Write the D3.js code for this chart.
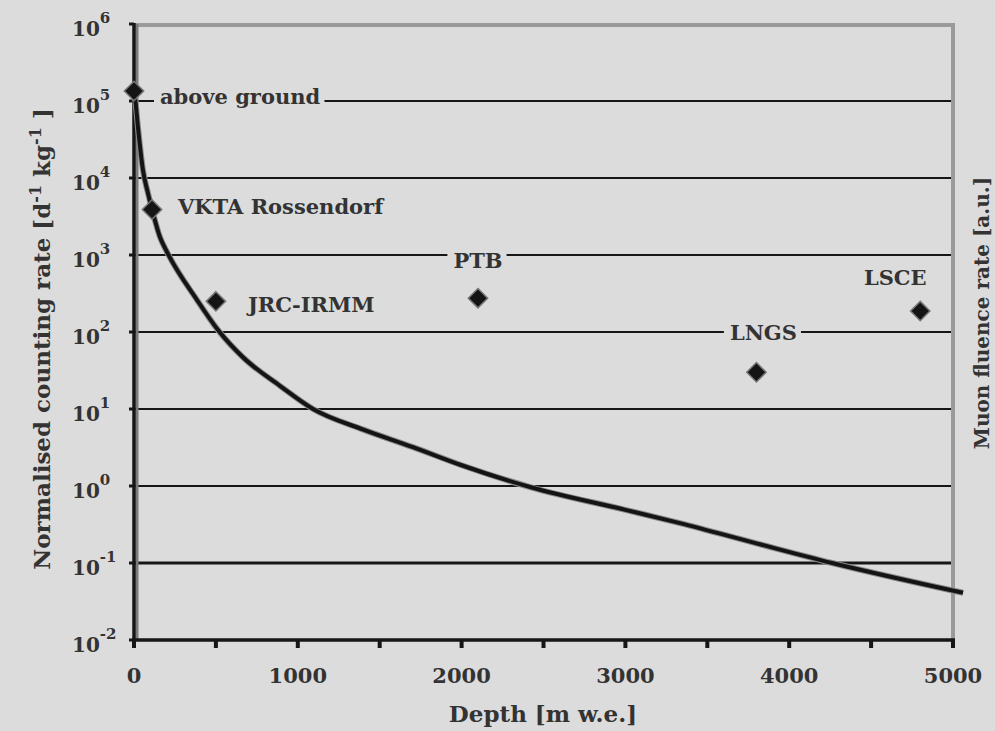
<!DOCTYPE html>
<html>
<head>
<meta charset="utf-8">
<script src="https://cdn.jsdelivr.net/npm/d3@7"></script>
<style>
  body { margin: 0; background: #dcdcdc; }
  svg { display: block; }
  text { font-family: "DejaVu Serif", "Liberation Serif", serif; font-weight: bold; fill: #333; }
</style>
</head>
<body>
<div id="chart"></div>
<script>
// Muon fluence curve (depth in m w.e., rate in a.u.)
const curveDepth = [0, 6, 24, 55, 85, 116, 159, 201, 385, 513, 665, 891, 1093, 1400, 1703, 2000, 2418, 3000, 3333, 3800, 4262, 5061];
const curveRate = [1.25e5, 1.1e5, 4.6e4, 1.25e4, 6.4e3, 3.5e3, 1.7e3, 1.1e3, 260, 106, 47, 20, 10, 5.4, 3.2, 1.86, 0.97, 0.49, 0.33, 0.18, 0.1, 0.041];

// Laboratory measurements
const labNames = ["above ground", "VKTA Rossendorf", "JRC-IRMM", "PTB", "LNGS", "LSCE"];
const labDepth = [0, 110, 500, 2100, 3800, 4800];
const labRate = [1.35e5, 3.9e3, 250, 275, 30, 187];

const yTickExp = [-2, -1, 0, 1, 2, 3, 4, 5, 6];
const xTickLabels = [0, 1000, 2000, 3000, 4000, 5000];
const xMinorTicks = [0, 500, 1000, 1500, 2000, 2500, 3000, 3500, 4000, 4500, 5000];

const width = 995, height = 731;
const plotLeft = 134, plotRight = 953, plotTop = 24, plotBottom = 640;

const svg = d3.select("#chart").append("svg")
  .attr("width", width).attr("height", height);

svg.append("rect").attr("width", width).attr("height", height).attr("fill", "#dcdcdc");

const x = d3.scaleLinear().domain([0, 5000]).range([plotLeft, plotRight]);
const y = d3.scaleLog().domain([1e-2, 1e6]).range([plotBottom, plotTop]);

// frame: grey top and right
svg.append("line").attr("x1", plotLeft).attr("x2", plotRight + 2).attr("y1", plotTop + 1).attr("y2", plotTop + 1)
  .attr("stroke", "#9a9a9a").attr("stroke-width", 4);
svg.append("line").attr("x1", plotRight).attr("x2", plotRight).attr("y1", plotTop).attr("y2", plotBottom)
  .attr("stroke", "#9a9a9a").attr("stroke-width", 4);

// gridlines at each decade
yTickExp.slice(1, -1).forEach(e => {
  svg.append("line")
    .attr("x1", plotLeft).attr("x2", plotRight - 2)
    .attr("y1", y(Math.pow(10, e))).attr("y2", y(Math.pow(10, e)))
    .attr("stroke", "#161616").attr("stroke-width", e < 0 ? 3 : 2);
});

// label offsets from their diamond (text boxes interrupt gridlines)
const labelPos = [
  {dx: 26, dy: 13, anchor: "start"},
  {dx: 26, dy: 5, anchor: "start"},
  {dx: 32, dy: 11, anchor: "start"},
  {dx: 0, dy: -30, anchor: "middle"},
  {dx: 7, dy: -32, anchor: "middle"},
  {dx: -25, dy: -26, anchor: "middle"}
];

const labels = svg.append("g");
labNames.forEach((name, i) => {
  const p = labelPos[i];
  const t = labels.append("text")
    .attr("x", x(labDepth[i]) + p.dx)
    .attr("y", y(labRate[i]) + p.dy)
    .attr("text-anchor", p.anchor)
    .attr("font-size", 21)
    .attr("fill", "#404040")
    .text(name);
  const bb = t.node().getBBox();
  labels.insert("rect", "text")
    .attr("x", bb.x - 6).attr("y", bb.y + 3)
    .attr("width", bb.width + 10).attr("height", bb.height - 6)
    .attr("fill", "#dcdcdc");
});

// left axis: black line with grey shadow
svg.append("line").attr("x1", plotLeft + 3).attr("x2", plotLeft + 3).attr("y1", plotTop).attr("y2", plotBottom)
  .attr("stroke", "#7a7a7a").attr("stroke-width", 3);
svg.append("line").attr("x1", plotLeft).attr("x2", plotLeft).attr("y1", plotTop - 1).attr("y2", plotBottom + 2)
  .attr("stroke", "#161616").attr("stroke-width", 3.5);

// bottom axis
svg.append("line").attr("x1", plotLeft - 2).attr("x2", plotRight + 2).attr("y1", plotBottom).attr("y2", plotBottom)
  .attr("stroke", "#161616").attr("stroke-width", 3.5);
xMinorTicks.forEach(v => {
  svg.append("line").attr("x1", x(v)).attr("x2", x(v)).attr("y1", plotBottom).attr("y2", plotBottom + 8)
    .attr("stroke", "#161616").attr("stroke-width", 4);
});
yTickExp.forEach(e => {
  svg.append("line").attr("x1", plotLeft - 5).attr("x2", plotLeft)
    .attr("y1", y(Math.pow(10, e))).attr("y2", y(Math.pow(10, e)))
    .attr("stroke", "#161616").attr("stroke-width", 3);
});

// x tick labels
xTickLabels.forEach(v => {
  svg.append("text").attr("x", x(v)).attr("y", 683)
    .attr("text-anchor", "middle").attr("font-size", 21)
    .attr("fill", "#4a4a4a").text(v);
});

// y tick labels 10^n
yTickExp.forEach(e => {
  const t = svg.append("text")
    .attr("x", 72).attr("y", y(Math.pow(10, e)) + 12)
    .attr("font-size", 20).attr("fill", "#4a4a4a");
  t.append("tspan").text("10");
  t.append("tspan").attr("dy", -13).attr("font-size", 15).text(e);
});

// axis titles
svg.append("text").attr("x", 543).attr("y", 722).attr("text-anchor", "middle")
  .attr("font-size", 23).attr("fill", "#222").text("Depth [m w.e.]");

const yt = svg.append("text")
  .attr("transform", "translate(50,339) rotate(-90)")
  .attr("text-anchor", "middle").attr("font-size", 23).attr("fill", "#2a2a2a");
yt.append("tspan").text("Normalised counting rate [d");
yt.append("tspan").attr("dy", -9).attr("font-size", 16).text("-1");
yt.append("tspan").attr("dy", 9).text(" kg");
yt.append("tspan").attr("dy", -9).attr("font-size", 16).text("-1");
yt.append("tspan").attr("dy", 9).text(" ]");

svg.append("text")
  .attr("transform", "translate(989,313) rotate(-90)")
  .attr("text-anchor", "middle").attr("font-size", 20).attr("fill", "#2a2a2a")
  .text("Muon fluence rate [a.u.]");

// curve
const curvePts = curveDepth.map((d, i) => [d, curveRate[i]]);
const line = d3.line()
  .x(d => x(d[0])).y(d => y(d[1]))
  .curve(d3.curveMonotoneX);
svg.append("path").datum(curvePts)
  .attr("d", line).attr("fill", "none")
  .attr("stroke", "#8a8a8a").attr("stroke-width", 6);
svg.append("path").datum(curvePts)
  .attr("d", line).attr("fill", "none")
  .attr("stroke", "#141414").attr("stroke-width", 4);

// diamonds
const sym = d3.symbol().type(d3.symbolDiamond2).size(240);
labDepth.forEach((d, i) => {
  svg.append("path")
    .attr("d", sym())
    .attr("transform", `translate(${x(d)},${y(labRate[i])})`)
    .attr("fill", "#141414").attr("stroke", "#777").attr("stroke-width", 1.5);
});
</script>
</body>
</html>
